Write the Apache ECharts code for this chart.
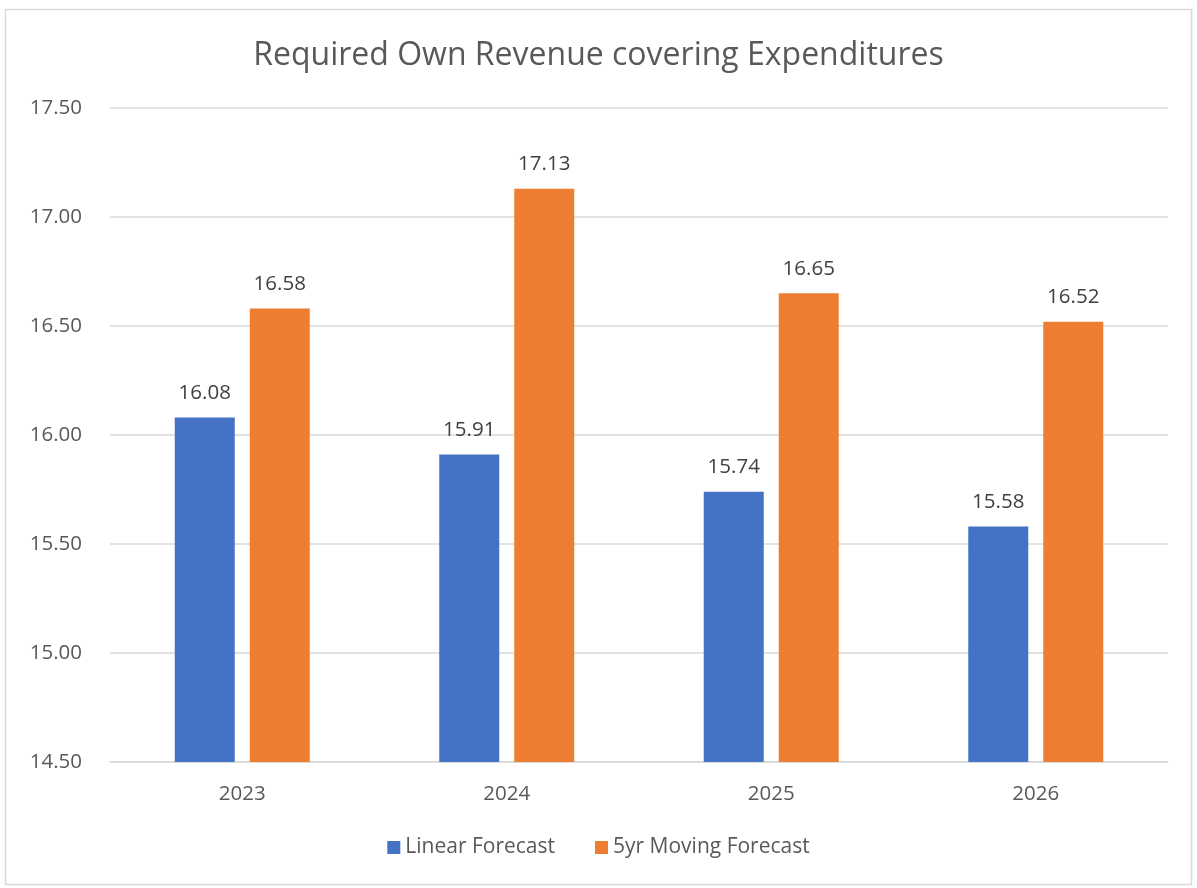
<!DOCTYPE html>
<html>
<head>
<meta charset="utf-8">
<script src="https://cdn.jsdelivr.net/npm/echarts@6/dist/echarts.min.js"></script>
<style>
  html, body { margin: 0; padding: 0; background: #fff; }
  #main { width: 1197px; height: 888px; }
</style>
</head>
<body>
<div id="main"></div>
<script>
// data
const years = ['2023', '2024', '2025', '2026'];
const linearForecast = [16.08, 15.91, 15.74, 15.58];
const movingForecast = [16.58, 17.13, 16.65, 16.52];
const yTicks = [14.5, 17.5, 0.5]; // min, max, step

const font = "'Open Sans', 'Noto Sans', sans-serif";

let chart = echarts.init(document.getElementById('main'));
chart.setOption({
  animation: false,
  textStyle: { fontFamily: font },
  title: {
    text: 'Required Own Revenue covering Expenditures',
    left: 'center',
    top: 35,
    textStyle: { fontSize: 32, fontWeight: 'normal', color: '#595959', fontFamily: font }
  },
  // outer frame of the chart area
  graphic: [{
    type: 'rect',
    shape: { x: 5.5, y: 9.5, width: 1186, height: 875 },
    style: { fill: 'none', stroke: '#d9d9d9', lineWidth: 1.5 },
    silent: true
  }],
  legend: {
    data: ['Linear Forecast', '5yr Moving Forecast'],
    bottom: 25,
    left: 'center',
    icon: 'rect',
    itemWidth: 13,
    itemHeight: 13,
    itemGap: 40,
    textStyle: { fontSize: 21, color: '#595959', fontFamily: font }
  },
  grid: {
    left: 110,
    right: 29,
    top: 108,
    bottom: 126
  },
  xAxis: {
    type: 'category',
    data: years,
    axisLine: { lineStyle: { color: '#d9d9d9', width: 1.5 } },
    axisTick: { show: false },
    axisLabel: { fontSize: 20.5, color: '#595959', margin: 22, fontFamily: font }
  },
  yAxis: {
    type: 'value',
    min: yTicks[0],
    max: yTicks[1],
    interval: yTicks[2],
    axisLine: { show: false },
    axisTick: { show: false },
    splitLine: { lineStyle: { color: '#d9d9d9', width: 1.5 } },
    axisLabel: {
      fontSize: 20.5,
      color: '#595959',
      margin: 28,
      fontFamily: font,
      formatter: v => v.toFixed(2)
    }
  },
  series: [
    {
      name: 'Linear Forecast',
      type: 'bar',
      data: linearForecast,
      barWidth: 60,
      barGap: '25%',
      itemStyle: { color: '#4472c4' },
      label: {
        show: true,
        position: 'top',
        distance: 14,
        fontSize: 20.5,
        color: '#404040',
        fontFamily: font,
        formatter: p => p.value.toFixed(2)
      }
    },
    {
      name: '5yr Moving Forecast',
      type: 'bar',
      data: movingForecast,
      barWidth: 60,
      barGap: '25%',
      itemStyle: { color: '#ed7d31' },
      label: {
        show: true,
        position: 'top',
        distance: 14,
        fontSize: 20.5,
        color: '#404040',
        fontFamily: font,
        formatter: p => p.value.toFixed(2)
      }
    }
  ]
});
</script>
</body>
</html>
